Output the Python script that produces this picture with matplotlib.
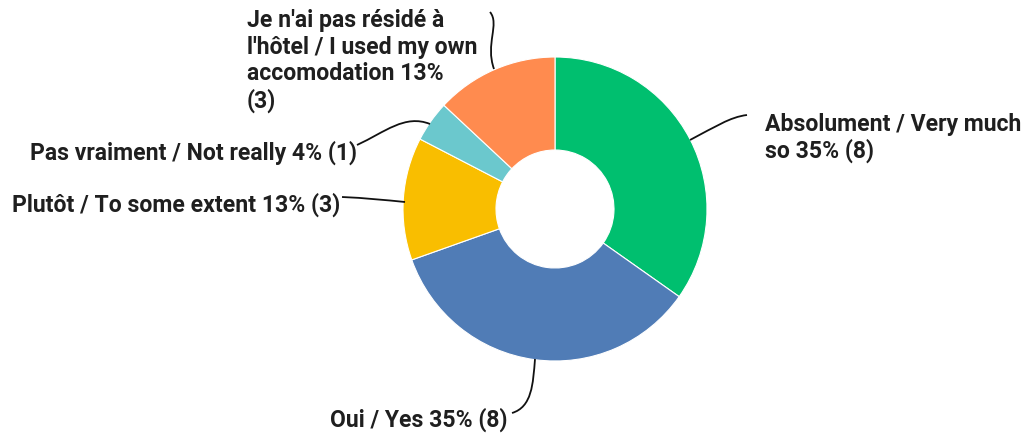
import matplotlib
matplotlib.use("Agg")
import matplotlib.pyplot as plt
from matplotlib.path import Path
from matplotlib.patches import PathPatch

categories = ["Absolument / Very much so", "Oui / Yes", "Plutôt / To some extent",
              "Pas vraiment / Not really", "Je n'ai pas résidé à l'hôtel / I used my own accomodation"]
counts = [8, 8, 3, 1, 3]
colors = ["#00BF6F", "#507CB6", "#F9BE00", "#6BC8CD", "#FF8B4F"]
label_texts = ["Absolument / Very much\nso 35% (8)",
               "Oui / Yes 35% (8)",
               "Plutôt / To some extent 13% (3)",
               "Pas vraiment / Not really 4% (1)",
               "Je n'ai pas résidé à\nl'hôtel / I used my own\naccomodation 13%\n(3)"]

W, H = 1031, 439
fig = plt.figure(figsize=(W / 100, H / 100), dpi=100)
ax = fig.add_axes([0, 0, 1, 1])
ax.set_xlim(0, W)
ax.set_ylim(0, H)
ax.set_aspect("equal")
ax.axis("off")

def Y(y):
    return H - y

cx, cy, R = 555, 210, 152
ax.pie(counts, colors=colors, startangle=90, counterclock=False,
       center=(cx, Y(cy)), radius=R, frame=True,
       wedgeprops=dict(width=R - 59, edgecolor="white", linewidth=0.8))
ax.set_xlim(0, W)
ax.set_ylim(0, H)
ax.axis("off")

font = dict(family=["Roboto", "DejaVu Sans"], fontsize=16.6, weight="bold", color="#1f1f1f")

# label positions (pixels)
ax.text(765, Y(138), label_texts[0], ha="left", va="center", linespacing=1.18, **font)
ax.text(507, Y(420), label_texts[1], ha="right", va="center", **font)
ax.text(340, Y(205), label_texts[2], ha="right", va="center", **font)
ax.text(357, Y(153), label_texts[3], ha="right", va="center", **font)
ax.text(247, Y(61), label_texts[4], ha="left", va="center", linespacing=1.18, **font)

def curve(pts):
    verts = [(x, Y(y)) for x, y in pts]
    codes = [Path.MOVETO] + [Path.CURVE4] * (len(verts) - 1)
    ax.add_patch(PathPatch(Path(verts, codes), fill=False, lw=1.3, color="#111111"))

curve([(690, 141), (715, 128), (730, 118), (747, 116)])
curve([(535, 360), (533, 385), (532, 408), (512, 414)])
curve([(342, 198), (365, 199), (385, 201), (405, 203)])
curve([(357, 146), (385, 133), (405, 115), (430, 125)])
curve([(490, 13), (500, 25), (485, 45), (494, 70)])

fig.savefig("out.png", dpi=100)
